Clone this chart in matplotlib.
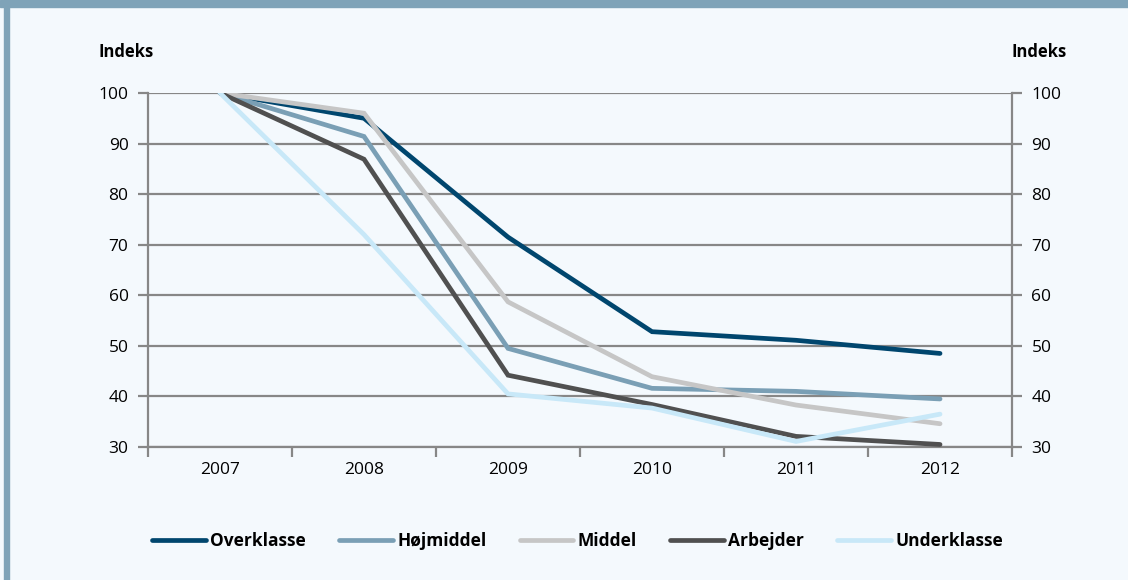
import matplotlib
matplotlib.use("Agg")
import matplotlib.pyplot as plt
from matplotlib.patches import Rectangle

# index values (2007 = 100)
years = ["2007", "2008", "2009", "2010", "2011", "2012"]
overklasse = [100, 95.0, 71.5, 52.8, 51.1, 48.5]
hoejmiddel = [100, 91.4, 49.5, 41.6, 41.0, 39.5]
middel = [100, 96.0, 58.7, 43.9, 38.3, 34.6]
arbejder = [100, 86.9, 44.2, 38.4, 32.1, 30.5]
underklasse = [100, 72.0, 40.5, 37.7, 31.1, 36.5]

series = [
    ("Overklasse", overklasse, "#00466e"),
    ("Højmiddel", hoejmiddel, "#7a9fb5"),
    ("Middel", middel, "#c6c6c6"),
    ("Arbejder", arbejder, "#505050"),
    ("Underklasse", underklasse, "#c8e8f8"),
]
yticks = [30, 40, 50, 60, 70, 80, 90, 100]

bg = "#f4f9fd"
grid_col = "#878787"
plt.rcParams['font.family'] = ['Open Sans', 'DejaVu Sans']

fig = plt.figure(figsize=(11.28, 5.80), dpi=100, facecolor=bg)
ax = fig.add_axes([0.1312, 0.2293, 0.766, 0.6104])
ax.set_facecolor(bg)

# frame bits of the original layout: top band and left strip
fig.patches.append(Rectangle((0, 1 - 7 / 580), 1, 7 / 580, transform=fig.transFigure,
                             color="#7fa3b8", zorder=0))
fig.patches.append(Rectangle((4 / 1128, 0), 5 / 1128, 1, transform=fig.transFigure,
                             color="#7fa3b8", zorder=0))

x = list(range(len(years)))
for name, vals, col in series:
    ax.plot(x, vals, color=col, lw=3.4, label=name, solid_capstyle="round",
            solid_joinstyle="miter", zorder=3)

ax.set_xlim(-0.5, len(years) - 0.5)
ax.set_ylim(30, 100)
ax.set_yticks(yticks)
ax.set_xticks(x)
ax.set_xticklabels(years)
ax.set_xticks([i - 0.5 for i in range(len(years) + 1)], minor=True)
ax.tick_params(axis="x", which="major", length=0, pad=11, labelsize=12.5)
ax.tick_params(axis="x", which="minor", length=7, width=1.6, color=grid_col, direction="out")
ax.tick_params(axis="y", length=7, width=1.6, color=grid_col, labelsize=12.5, pad=7,
               left=True, right=True, labelleft=True, labelright=True)
ax.grid(axis="y", color=grid_col, lw=1.6, zorder=1)

for side in ["left", "right", "bottom"]:
    ax.spines[side].set_color(grid_col)
    ax.spines[side].set_linewidth(1.6)
ax.spines["top"].set_visible(False)

fig.text(126 / 1128, 1 - 52 / 580, "Indeks", fontsize=12, fontweight="bold",
         ha="center", va="center")
fig.text(1039 / 1128, 1 - 52 / 580, "Indeks", fontsize=12, fontweight="bold",
         ha="center", va="center")

leg = fig.legend(loc="center", bbox_to_anchor=(0.512, 1 - 541 / 580), ncol=5,
                 frameon=False, handlelength=3.1, handletextpad=0.25, columnspacing=1.9,
                 prop={"weight": "bold", "size": 12.5})

fig.savefig("out.png", dpi=100, facecolor=bg)
